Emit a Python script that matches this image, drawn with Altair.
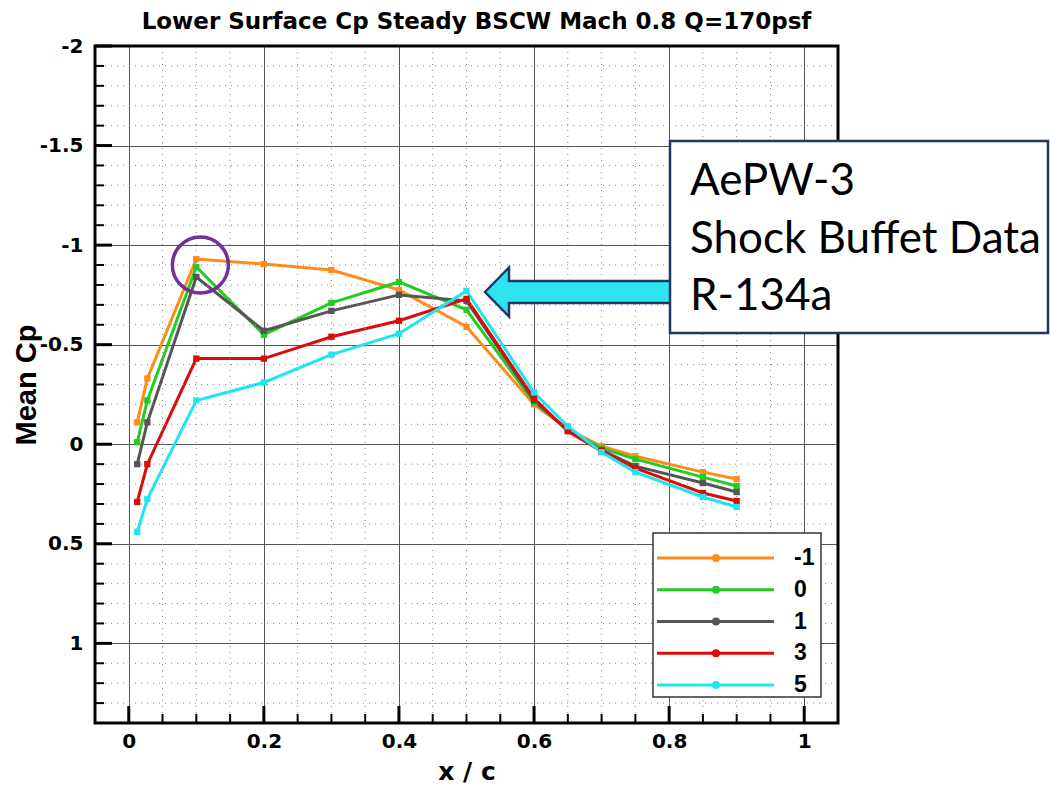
import altair as alt
import pandas as pd

# ---------------- data ----------------
x_c = [0.0125, 0.0275, 0.1, 0.2, 0.3, 0.4, 0.5, 0.6, 0.65, 0.7, 0.75, 0.85, 0.9]
cp_m1 = [-0.11, -0.33, -0.93, -0.905, -0.875, -0.775, -0.59, -0.20, -0.075, 0.01, 0.06, 0.14, 0.175]
cp_0 = [-0.01, -0.22, -0.89, -0.55, -0.71, -0.815, -0.675, -0.21, -0.075, 0.02, 0.075, 0.165, 0.21]
cp_1 = [0.10, -0.11, -0.84, -0.57, -0.67, -0.75, -0.72, -0.22, -0.07, 0.03, 0.11, 0.195, 0.24]
cp_3 = [0.29, 0.10, -0.43, -0.43, -0.54, -0.62, -0.73, -0.23, -0.065, 0.035, 0.12, 0.245, 0.285]
cp_5 = [0.44, 0.275, -0.22, -0.31, -0.45, -0.555, -0.77, -0.26, -0.09, 0.04, 0.14, 0.265, 0.315]

series = ["-1", "0", "1", "3", "5"]
series_values = [cp_m1, cp_0, cp_1, cp_3, cp_5]
colors = ["#FF8C1A", "#22CC22", "#555555", "#DD0A0A", "#1EE6F0"]

x_major = [0, 0.2, 0.4, 0.6, 0.8, 1]
y_major = [-2, -1.5, -1, -0.5, 0, 0.5, 1]
x_minor = [round(0.05 * i, 2) for i in range(1, 21) if i % 4]
y_minor = [round(-2 + 0.1 * i, 1) for i in range(1, 34) if i % 5]

title_text = "Lower Surface Cp Steady BSCW Mach 0.8 Q=170psf"
x_title = "x / c"
y_title = "Mean Cp"
anno_lines = ["AePW-3", "Shock Buffet Data", "R-134a"]
circle_x = [0.106]
circle_cp = [-0.90]

# ---------------- tables ----------------
rows = []
for s, vals in zip(series, series_values):
    for xv, cv in zip(x_c, vals):
        rows.append({"series": s, "x": xv, "cp": cv})
df = pd.DataFrame(rows)

W, H = 743, 677
xs = alt.Scale(domain=[-0.05, 1.05], nice=False, zero=False)
ys = alt.Scale(domain=[-2, 1.4], reverse=True, nice=False, zero=False)
cscale = alt.Scale(domain=series, range=colors)
FONT = "DejaVu Sans"

xaxis = alt.Axis(
    values=x_major, title=x_title, grid=True, gridColor="#555555", gridWidth=1,
    domain=False, ticks=False, labelOverlap=False,
    labelFont=FONT, labelFontSize=20, labelFontWeight="bold", labelColor="black",
    labelPadding=8, labelExpr="'' + datum.value",
    titleFont=FONT, titleFontSize=25, titleFontWeight="bold", titleColor="black",
    titleX=W / 2, titleY=56, titleBaseline="alphabetic",
)
yaxis = alt.Axis(
    values=y_major, title=y_title, grid=True, gridColor="#555555", gridWidth=1,
    domain=False, ticks=False, labelOverlap=False,
    labelFont=FONT, labelFontSize=20, labelFontWeight="bold", labelColor="black",
    labelPadding=12, labelExpr="'' + datum.value",
    titleFont="Liberation Sans", titleFontSize=29, titleFontWeight="bold", titleColor="black",
    titleX=-60, titleY=H / 2, titleAngle=270, titleBaseline="alphabetic",
)

color_enc = alt.Color("series:N", scale=cscale, legend=None)

minor_xdf = pd.DataFrame({"v": x_minor})
minor_ydf = pd.DataFrame({"v": y_minor})
major_xdf = pd.DataFrame({"v": x_major})
major_ydf = pd.DataFrame({"v": y_major})
one = pd.DataFrame({"a": [0]})

# axes + major grid carried by the data lines layer
lines = alt.Chart(df).mark_line(strokeWidth=3).encode(
    x=alt.X("x:Q", scale=xs, axis=xaxis),
    y=alt.Y("cp:Q", scale=ys, axis=yaxis),
    color=color_enc,
)
points = alt.Chart(df).mark_square(size=40, opacity=1).encode(
    x=alt.X("x:Q", scale=xs, axis=xaxis),
    y=alt.Y("cp:Q", scale=ys, axis=yaxis),
    color=color_enc,
)

grid_x = alt.Chart(minor_xdf).mark_rule(color="#888888", strokeWidth=1, strokeDash=[1, 5]).encode(
    x=alt.X("v:Q", scale=xs, axis=xaxis))
grid_y = alt.Chart(minor_ydf).mark_rule(color="#888888", strokeWidth=1, strokeDash=[1, 5]).encode(
    y=alt.Y("v:Q", scale=ys, axis=yaxis))

ytick_major = alt.Chart(major_ydf).mark_rule(color="black", strokeWidth=3).encode(
    y=alt.Y("v:Q", scale=ys, axis=yaxis), x=alt.value(0), x2=alt.value(17))
ytick_minor = alt.Chart(minor_ydf).mark_rule(color="black", strokeWidth=2).encode(
    y=alt.Y("v:Q", scale=ys, axis=yaxis), x=alt.value(0), x2=alt.value(9))
xtick_major = alt.Chart(major_xdf).mark_rule(color="black", strokeWidth=3).encode(
    x=alt.X("v:Q", scale=xs, axis=xaxis), y=alt.value(H), y2=alt.value(H - 17))
xtick_minor = alt.Chart(minor_xdf).mark_rule(color="black", strokeWidth=2).encode(
    x=alt.X("v:Q", scale=xs, axis=xaxis), y=alt.value(H), y2=alt.value(H - 9))

frame = alt.Chart(one).mark_rect(fillOpacity=0, stroke="black", strokeWidth=3).encode(
    x=alt.value(0), x2=alt.value(W), y=alt.value(0), y2=alt.value(H))

circle = alt.Chart(pd.DataFrame({"x": circle_x, "cp": circle_cp})).mark_point(
    shape="circle", size=3136, filled=False, color="#7030A0", strokeWidth=3.5, opacity=1
).encode(x=alt.X("x:Q", scale=xs, axis=xaxis), y=alt.Y("cp:Q", scale=ys, axis=yaxis))

# ---------------- legend (drawn) ----------------
leg_df = pd.DataFrame({"series": series, "i": list(range(len(series)))})
ly = alt.Y("ly:Q", scale=None, axis=None)
leg_box = alt.Chart(one).mark_rect(fill="white", stroke="#333333", strokeWidth=1.5).encode(
    x=alt.value(558), x2=alt.value(726), y=alt.value(487), y2=alt.value(651))
leg_base = alt.Chart(leg_df).transform_calculate(ly="512 + datum.i * 31.75")
leg_lines = leg_base.mark_rule(strokeWidth=3).encode(
    x=alt.value(562), x2=alt.value(679), y=ly, color=color_enc)
leg_pts = leg_base.mark_circle(size=64, opacity=1).encode(
    x=alt.value(621), y=ly, color=color_enc)
leg_txt = leg_base.mark_text(align="left", baseline="middle", font="Liberation Sans",
                             fontSize=23, fontWeight="bold", color="black").encode(
    x=alt.value(699), y=ly, text="series:N")

# ---------------- annotation ----------------
arrow_path = "M0,0L24,-24.5L24,-11L186,-11L186,11L24,11L24,24.5Z"
arrow = alt.Chart(one).mark_point(shape=arrow_path, size=4, filled=True, fill="#2CE5F0",
                                  stroke="#1F3864", strokeWidth=2.5, opacity=1, strokeOpacity=1).encode(
    x=alt.value(390), y=alt.value(246))
box = alt.Chart(one).mark_rect(fill="white", stroke="#1F3864", strokeWidth=2.5).encode(
    x=alt.value(575), x2=alt.value(953), y=alt.value(95), y2=alt.value(287))
anno = alt.Chart(one).mark_text(text=anno_lines, align="left", baseline="alphabetic", font="Lato",
                                fontSize=44, lineHeight=57.5, color="black").encode(
    x=alt.value(595), y=alt.value(149))
title = alt.Chart(one).mark_text(text=title_text, align="center", baseline="alphabetic", font=FONT,
                                 fontSize=23, fontWeight="bold", color="black").encode(
    x=alt.value(W / 2 + 10), y=alt.value(-17))

chart = alt.layer(
    lines, grid_x, grid_y, points, ytick_major, ytick_minor, xtick_major, xtick_minor,
    frame, circle, leg_box, leg_lines, leg_pts, leg_txt, arrow, box, anno, title,
).properties(
    width=W, height=H,
    padding={"left": 95, "top": 46, "right": 212, "bottom": 62},
    autosize=alt.AutoSizeParams(type="none"),
).configure_view(stroke="transparent").configure(background="white")

chart.save("out.html", embed_options={"renderer": "svg", "actions": False})
